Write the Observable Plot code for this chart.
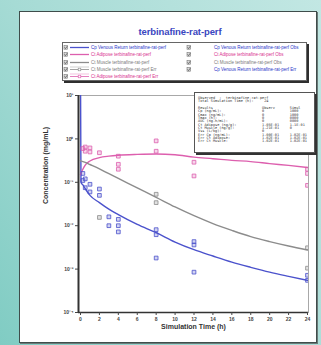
<!DOCTYPE html>
<html><head><meta charset="utf-8">
<script src="https://cdn.jsdelivr.net/npm/d3@7"></script>
<script src="https://cdn.jsdelivr.net/npm/@observablehq/plot@0.6"></script>
<style>
html,body{margin:0;padding:0;}
body{width:321px;height:345px;overflow:hidden;position:relative;
  background:linear-gradient(55deg,#80ccc3 0%,#a6dbd5 45%,#c2e7e3 100%);
  font-family:"Liberation Sans",Arial,sans-serif;}
#panel{position:absolute;left:19px;top:11px;width:296px;height:330px;background:#fff;
  border:1px solid #3f4d4b;box-shadow:1px 1px 0 #6a7a78;}
#title{position:absolute;left:180px;top:26px;transform:translateX(-50%);white-space:nowrap;
  font-size:9.5px;font-weight:bold;color:#3a46c0;letter-spacing:-0.1px;}
#legend{position:absolute;left:62px;top:42px;width:243px;height:37px;background:#fff;
  border:1px solid #666;box-shadow:2px 2px 0 #2e2e2e;}
.lrow{position:absolute;height:7px;font-size:4.5px;line-height:7px;white-space:nowrap;}
.lrow svg{position:absolute;top:0;left:0;}
.lrow span{position:absolute;top:0;}
#stats{position:absolute;left:194px;top:92px;width:119px;height:59px;background:#fff;
  border:1px solid #555;box-shadow:2px 2px 0 #333;overflow:hidden;}
#stats pre{margin:0;padding:4px 0 0 3px;font-family:"DejaVu Sans Mono","Liberation Mono",monospace;
  font-size:3.55px;line-height:3.35px;color:#333;}
#chart{position:absolute;left:0;top:0;}
</style></head>
<body>
<div id="panel"></div>
<div id="chart"></div>
<div id="title"></div>
<div id="legend"></div>
<div id="stats"><pre id="statsText"></pre></div>
<script>
// ---- data ----
const chartTitle = "terbinafine-rat-perf";
const xTitle = "Simulation Time (h)";
const yTitle = "Concentration (mg/mL)";
const xTicks = [0, 2, 4, 6, 8, 10, 12, 14, 16, 18, 20, 22, 24];
const yTicks = [1e-4, 1e-3, 1e-2, 1e-1, 1, 10];

// simulated curves
const simTime   = [0, 0.05, 0.25, 0.5, 1, 2, 3, 4, 6, 8, 10, 12, 14, 16, 18, 20, 22, 24];
const cpVenous  = [30, 0.1, 0.087, 0.071, 0.05, 0.034, 0.024, 0.018, 0.0107, 0.0069, 0.0042, 0.0028, 0.002, 0.00145, 0.0011, 0.00085, 0.00068, 0.00055];
const ctAdipose = [0.15, 0.16, 0.2, 0.25, 0.31, 0.37, 0.4, 0.42, 0.44, 0.45, 0.43, 0.38, 0.35, 0.32, 0.3, 0.27, 0.245, 0.22];
const ctMuscle  = [0.316, 0.31, 0.3, 0.288, 0.257, 0.204, 0.158, 0.123, 0.074, 0.045, 0.027, 0.017, 0.0112, 0.0078, 0.0056, 0.0043, 0.0034, 0.00275];

// observed points
const obsVenousTime  = [0.25, 0.25, 0.5, 0.5, 1, 1, 2, 2, 3, 3, 4, 4, 4, 8, 8, 8, 12, 12, 12, 24, 24];
const obsVenous      = [0.16, 0.11, 0.12, 0.075, 0.09, 0.06, 0.07, 0.05, 0.016, 0.010, 0.014, 0.010, 0.0072, 0.0081, 0.0062, 0.0018, 0.0043, 0.0036, 0.00085, 0.00072, 0.00055];
const obsAdiposeTime = [0.25, 0.5, 0.5, 1, 1, 2, 4, 4, 4, 8, 8, 12, 12, 24, 24, 24];
const obsAdipose     = [0.6, 0.65, 0.52, 0.62, 0.5, 0.48, 0.40, 0.26, 0.20, 0.9, 0.52, 0.29, 0.14, 0.2, 0.16, 0.085];
const obsMuscleTime  = [2, 8, 8, 24, 24];
const obsMuscle      = [0.0155, 0.053, 0.034, 0.0031, 0.00105];

// legend
const legendLeftLabels  = ["Cp Venous Return terbinafine-rat-perf", "Ct Adipose terbinafine-rat-perf", "Ct Muscle terbinafine-rat-perf", "Ct Muscle terbinafine-rat-perf Err", "Ct Adipose terbinafine-rat-perf Err"];
const legendLeftKinds   = ["line", "line", "line", "err", "err"];
const legendLeftSeries  = ["venous", "adipose", "muscle", "muscle", "adipose"];
const legendRightLabels = ["Cp Venous Return terbinafine-rat-perf Obs", "Ct Adipose terbinafine-rat-perf Obs", "Ct Muscle terbinafine-rat-perf Obs", "Cp Venous Return terbinafine-rat-perf Err"];
const legendRightKinds  = ["obs", "obs", "obs", "err"];
const legendRightSeries = ["venous", "adipose", "muscle", "venous"];

// stats box
const statsHeader = ["Observed  :  terbinafine-rat-perf", "Total Simulation Time (h):     24", ""];
const statsLabels = ["Results", "Cp (ng/mL):", "Cmax (ng/mL):", "Tmax (h):", "AUC (ng.h/mL):", "Ct Adipose (ng/g):", "Ct Muscle (ng/g):", "Vss (L/kg):", "Err Cp (ng/mL):", "Err Ct Adipose:", "Err Ct Muscle:"];
const statsObs    = ["Observ", "0", "0", "0", "0", "1.05E-01", "1.21E-01", "0", "1.00E-01", "1.02E-01", "1.02E-01"];
const statsSim    = ["Simul", "1000", "1000", "0000", "0000", "1.1E-01", "0", "", "1.02E-01", "1.02E-01", "1.02E-01"];

// ---- styles ----
const colors = {venous: "#4b52cc", adipose: "#dd5fae", muscle: "#8c8c8c"};
const textColors = {venous: "#2a36c8", adipose: "#d8308e", muscle: "#7a7a7a"};

// ---- title / legend / stats ----
document.getElementById("title").textContent = chartTitle;

function sample(kind, series) {
  const c = colors[series];
  const cb = `<rect x="1" y="1.6" width="3.6" height="3.6" fill="#ddd" stroke="#777" stroke-width="0.6"/><path d="M1.6 3.4 L2.6 4.6 L4.2 2.2" fill="none" stroke="#444" stroke-width="0.7"/>`;
  return {cb, c};
}
const legend = document.getElementById("legend");
function addRow(i, x0, sx0, sx1, tx, label, kind, series) {
  const row = document.createElement("div");
  row.className = "lrow";
  row.style.left = x0 + "px";
  row.style.top = (1 + i * 7.3) + "px";
  row.style.width = "125px";
  const c = colors[series];
  let s = `<svg width="${tx}" height="7"><rect x="1" y="1.6" width="3.6" height="3.6" fill="#ddd" stroke="#777" stroke-width="0.6"/><path d="M1.6 3.4 L2.6 4.6 L4.2 2.2" fill="none" stroke="#444" stroke-width="0.7"/>`;
  const mid = (sx0 + sx1) / 2;
  if (kind === "line") {
    s += `<line x1="${sx0}" x2="${sx1}" y1="3.5" y2="3.5" stroke="${c}" stroke-width="1.3"/>`;
  } else if (kind === "err") {
    s += `<line x1="${sx0}" x2="${sx1}" y1="3.5" y2="3.5" stroke="${c}" stroke-width="0.8"/>`;
    s += `<rect x="${mid - 1.3}" y="2.2" width="2.6" height="2.6" fill="#fff" stroke="${c}" stroke-width="0.6"/>`;
    s += `<line x1="${sx0}" x2="${sx1}" y1="1" y2="1" stroke="${c}" stroke-width="0.4"/>`;
  } else {
    s += `<rect x="${mid - 1.5}" y="2" width="3" height="3" fill="${c}" fill-opacity="0.3" stroke="${c}" stroke-width="0.6"/>`;
  }
  s += `</svg><span style="left:${tx}px;color:${textColors[series]}">${label}</span>`;
  row.innerHTML = s;
  legend.appendChild(row);
}
legendLeftLabels.forEach((l, i) => addRow(i, 0, 7, 26, 28, l, legendLeftKinds[i], legendLeftSeries[i]));
legendRightLabels.forEach((l, i) => addRow(i, 123, 133, 148, 151 - 123 + 0, l, legendRightKinds[i], legendRightSeries[i]));
// fix right text offset (relative to row)
legend.querySelectorAll(".lrow").forEach((r, i) => { if (i >= 5) r.querySelector("span").style.left = "28px"; });

const statsLines = statsHeader.concat(statsLabels.map((l, i) =>
  l.padEnd(30) + statsObs[i].padEnd(13) + statsSim[i]));
document.getElementById("statsText").textContent = statsLines.join("\n");

// ---- chart ----
const simData = [];
simTime.forEach((t, i) => {
  simData.push({t, v: cpVenous[i], s: "venous"});
  simData.push({t, v: ctAdipose[i], s: "adipose"});
  simData.push({t, v: ctMuscle[i], s: "muscle"});
});
const obsData = [];
obsVenousTime.forEach((t, i) => obsData.push({t, v: obsVenous[i], s: "venous"}));
obsAdiposeTime.forEach((t, i) => obsData.push({t, v: obsAdipose[i], s: "adipose"}));
obsMuscleTime.forEach((t, i) => obsData.push({t, v: obsMuscle[i], s: "muscle"}));

const supMap = {"-": "⁻", "0": "⁰", "1": "¹", "2": "²", "3": "³", "4": "⁴", "5": "⁵"};
const fmt = d => "10" + String(Math.round(Math.log10(d))).split("").map(c => supMap[c]).join("");

const chart = Plot.plot({
  width: 321,
  height: 345,
  marginLeft: 78,
  marginRight: 13,
  marginTop: 95,
  marginBottom: 33,
  style: {background: "transparent", fontFamily: "Liberation Sans, Arial, sans-serif", overflow: "visible"},
  x: {domain: [0, 24], insetLeft: 2, insetRight: 1},
  y: {type: "log", domain: [1e-4, 10]},
  color: {domain: ["venous", "adipose", "muscle"], range: [colors.venous, colors.adipose, colors.muscle]},
  marks: [
    Plot.frame({stroke: "#a8a8a8", strokeWidth: 1}),
    Plot.line(simData, {x: "t", y: "v", z: "s", stroke: "s", strokeWidth: 1.4, curve: "monotone-x", clip: true}),
    Plot.dot(obsData, {x: "t", y: "v", stroke: "s", fill: "s", fillOpacity: 0.25, symbol: "square", r: 2.1, strokeWidth: 0.8, clip: true}),
    Plot.ruleX([0], {dx: -2, stroke: "#333", strokeWidth: 2}),
    Plot.ruleY([1e-4], {stroke: "#333", strokeWidth: 1.5}),
    Plot.axisX({ticks: xTicks, tickSize: 3, tickPadding: 2, fontSize: 5, fontWeight: "bold", color: "#444", label: null}),
    Plot.axisY({ticks: yTicks, tickFormat: fmt, tickSize: 3, tickPadding: 2, fontSize: 5, fontWeight: "bold", color: "#444", label: null}),
    Plot.text([xTitle], {frameAnchor: "bottom", dy: 16, fontSize: 7, fontWeight: "bold", fill: "#333"}),
    Plot.text([yTitle], {frameAnchor: "left", dx: -33, rotate: -90, fontSize: 7, fontWeight: "bold", fill: "#333"})
  ]
});
document.getElementById("chart").appendChild(chart);
</script>
</body></html>
